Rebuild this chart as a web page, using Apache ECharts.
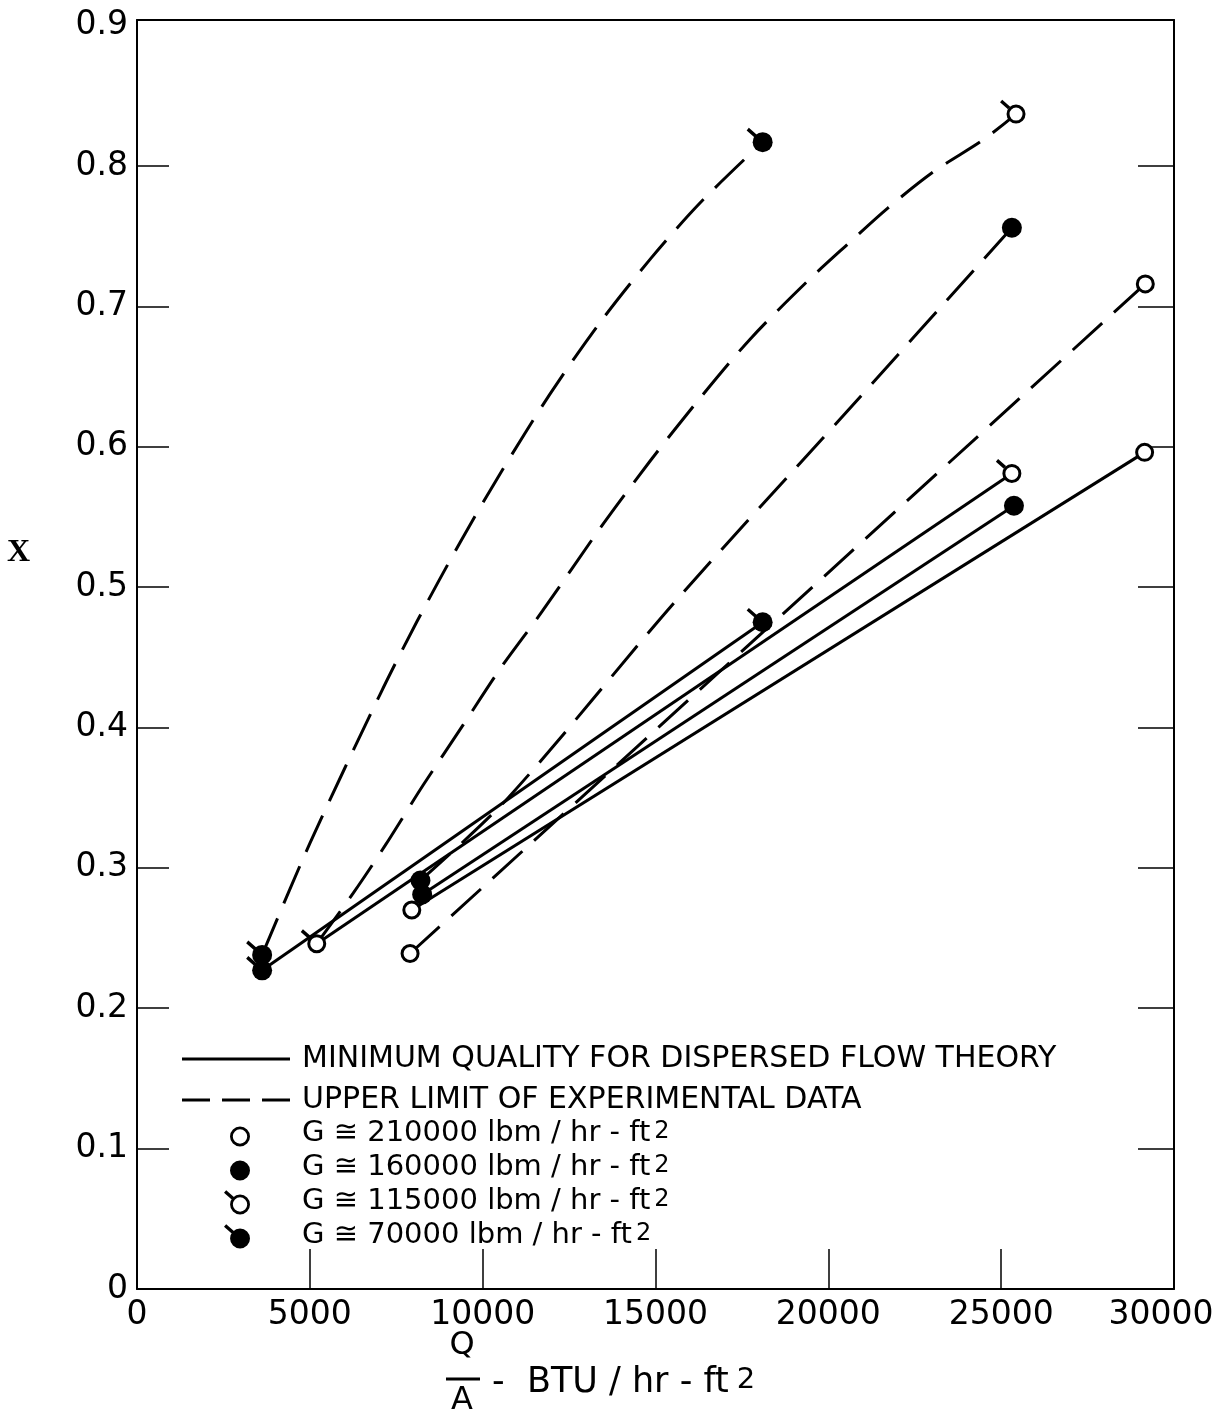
<!DOCTYPE html>
<html><head><meta charset="utf-8">
<script src="https://cdn.jsdelivr.net/npm/echarts@6/dist/echarts.min.js"></script>
<style>html,body{margin:0;padding:0;background:#fff;overflow:hidden}#c{width:1219px;height:1414px}</style>
</head><body><div id="c"></div>
<script>
// ---- tick labels ----
const xTickValues = [0, 5000, 10000, 15000, 20000, 25000, 30000];
const yTickLabels = ['0', '0.1', '0.2', '0.3', '0.4', '0.5', '0.6', '0.7', '0.8', '0.9'];
const yInnerTicks = [0.1, 0.2, 0.3, 0.4, 0.5, 0.6, 0.7, 0.8];

// ---- legend / series names ----
const nameMin = 'MINIMUM QUALITY FOR DISPERSED FLOW THEORY';
const nameUpper = 'UPPER LIMIT OF EXPERIMENTAL DATA';
const G210 = 'G ≅ 210000 lbm / hr - ft2';
const G160 = 'G ≅ 160000 lbm / hr - ft2';
const G115 = 'G ≅ 115000 lbm / hr - ft2';
const G70  = 'G ≅ 70000 lbm / hr - ft2';

// ---- data points [Q/A (BTU/hr-ft2), X] ----
const pts210 = [[7950, 0.270], [7900, 0.239], [29170, 0.716], [29150, 0.596]];
const pts160 = [[8200, 0.291], [8250, 0.281], [25310, 0.756], [25370, 0.558]];
const pts115 = [[5200, 0.246], [25430, 0.837], [25310, 0.581]];
const pts70  = [[3620, 0.238], [3620, 0.227], [18100, 0.817], [18100, 0.475]];

// ---- minimum quality (solid) lines ----
const min210 = [[7950, 0.270], [29150, 0.596]];
const min160 = [[8250, 0.281], [25370, 0.558]];
const min115 = [[5200, 0.246], [25310, 0.581]];
const min70  = [[3620, 0.227], [18100, 0.475]];

// ---- upper limit (dashed) curves ----
const up210 = [[7900, 0.239], [29170, 0.716]];
const up160 = [[8200, 0.291], [10740, 0.350], [15580, 0.490], [20500, 0.624], [25310, 0.756]];
const up115 = [[5200, 0.246], [6255, 0.282], [7180, 0.316], [8280, 0.359], [9440, 0.402],
               [10510, 0.442], [11730, 0.483], [13400, 0.542], [14850, 0.590], [16300, 0.635],
               [17750, 0.677], [19400, 0.718], [20590, 0.745], [21720, 0.770], [23050, 0.796],
               [24500, 0.819], [25430, 0.837]];
const up70  = [[3620, 0.238], [5010, 0.318], [7040, 0.424], [8110, 0.476], [9350, 0.532],
               [10510, 0.581], [11960, 0.638], [13410, 0.689], [14860, 0.734], [16300, 0.774],
               [18100, 0.817]];

const FONT = 'DejaVu Sans';
const anchors = 'M0,0 L0.04,0 L0,0.04 Z M26,26 L25.96,26 L26,25.96 Z ';
const flagP = 'M2.1,1.7 L10.1,8.7 L7.9,11.3 L-0.1,4.3 Z ';
const discP = 'M6,16 A10,10 0 1 1 26,16 A10,10 0 1 1 6,16 Z ';
const ringP = discP + 'M8.8,16 A7.2,7.2 0 1 0 23.2,16 A7.2,7.2 0 1 0 8.8,16 Z ';
const flagSymbol = 'path://' + anchors + flagP;

function lineSeries(name, data, dashed) {
  return {
    type: 'line', name: name, data: data, showSymbol: false, silent: true,
    smooth: dashed ? 0.3 : false, z: 2,
    itemStyle: { color: '#000' },
    lineStyle: { color: '#000', width: 3, type: dashed ? [40, 16] : 'solid', cap: 'butt' }
  };
}
function markerSeries(name, data, open) {
  return {
    type: 'scatter', name: name, data: data, symbol: 'circle',
    symbolSize: open ? 16 : 20, z: 5,
    itemStyle: open ? { color: '#fff', borderColor: '#000', borderWidth: 3, opacity: 1 }
                    : { color: '#000', borderColor: '#000', borderWidth: 0, opacity: 1 }
  };
}
function flagSeries(name, data) {
  return {
    type: 'scatter', name: name, data: data, symbol: flagSymbol, symbolSize: 26,
    symbolOffset: [-3, -3], z: 4, silent: true, itemStyle: { color: '#000', opacity: 1 }
  };
}
function legendFmt(n) {
  return '{t|' + n.slice(0, -1) + '}{s|2}';
}

const chart = echarts.init(document.getElementById('c'), null, { renderer: 'canvas' });
chart.setOption({
  animation: false,
  backgroundColor: '#fff',
  grid: { left: 137, right: 45, top: 20, bottom: 125, show: false, containLabel: false, outerBoundsMode: 'none' },
  xAxis: [{
    type: 'value', min: 0, max: 30000, interval: 5000, position: 'bottom',
    axisLine: { show: true, onZero: false, lineStyle: { color: '#000', width: 2 } },
    axisTick: { show: true, inside: true, length: 40, lineStyle: { color: '#000', width: 1.5 } },
    axisLabel: { color: '#000', fontFamily: FONT, fontSize: 33, margin: 10,
      formatter: v => v === 30000 ? '{r|30000}' : (xTickValues.indexOf(v) >= 0 ? String(v) : ''),
      rich: { r: { fontFamily: FONT, fontSize: 33, color: '#000', padding: [0, 26, 0, 0] } } },
    splitLine: { show: false }
  }, {
    type: 'value', min: 0, max: 30000, interval: 5000, position: 'top',
    axisLine: { show: true, onZero: false, lineStyle: { color: '#000', width: 2 } },
    axisTick: { show: false }, axisLabel: { show: false }, splitLine: { show: false }
  }],
  yAxis: [{
    type: 'value', min: 0, max: 0.904, interval: 0.1, position: 'left',
    axisLine: { show: true, onZero: false, lineStyle: { color: '#000', width: 2 } },
    axisTick: { show: true, inside: true, length: 32, customValues: yInnerTicks, lineStyle: { color: '#000', width: 1.5 } },
    axisLabel: { color: '#000', fontFamily: FONT, fontSize: 33, margin: 9,
      formatter: v => { const i = Math.round(v * 10); return Math.abs(v * 10 - i) < 1e-6 ? yTickLabels[i] : ''; } },
    splitLine: { show: false }
  }, {
    type: 'value', min: 0, max: 0.904, interval: 0.1, position: 'right',
    axisLine: { show: true, onZero: false, lineStyle: { color: '#000', width: 2 } },
    axisTick: { show: true, inside: true, length: 36, customValues: yInnerTicks, lineStyle: { color: '#000', width: 1.5 } },
    axisLabel: { show: false }, splitLine: { show: false }
  }],
  legend: [{
    orient: 'vertical', left: 182, top: 1042, padding: 0, itemWidth: 108, itemHeight: 3, itemGap: 7,
    textStyle: { color: '#000', fontFamily: FONT, fontSize: 30, lineHeight: 34, padding: [0, 0, 0, 7] },
    data: [
      { name: nameMin, icon: 'path://M0,0 H108 V3 H0 Z' },
      { name: nameUpper, icon: 'path://M0,0 H28 V3 H0 Z M40,0 H68 V3 H40 Z M80,0 H108 V3 H80 Z' }
    ],
    selectedMode: false
  }, {
    orient: 'vertical', left: 224, top: 1119, padding: 0, itemWidth: 26, itemHeight: 26, itemGap: 5,
    selectedMode: false,
    formatter: legendFmt,
    textStyle: { color: '#000', fontFamily: FONT, fontSize: 29, padding: [0, 0, 0, 47],
      rich: {
        t: { fontFamily: FONT, fontSize: 29, lineHeight: 28, color: '#000' },
        s: { fontFamily: FONT, fontSize: 24, lineHeight: 10, verticalAlign: 'top', color: '#000', padding: [0, 0, 0, 4] }
      } },
    data: [
      { name: G210, icon: 'path://' + anchors + ringP, itemStyle: { color: '#000', borderWidth: 0, opacity: 1 } },
      { name: G160, icon: 'path://' + anchors + discP, itemStyle: { color: '#000', borderWidth: 0, opacity: 1 } },
      { name: G115, icon: 'path://' + anchors + flagP + ringP, itemStyle: { color: '#000', borderWidth: 0, opacity: 1 } },
      { name: G70,  icon: 'path://' + anchors + flagP + discP, itemStyle: { color: '#000', borderWidth: 0, opacity: 1 } }
    ]
  }],
  graphic: [
    { type: 'text', left: 7, top: 537, style: { text: 'X', font: 'bold 32px "Liberation Serif"', fill: '#000' } },
    { type: 'text', x: 462, y: 1346, style: { text: 'Q', font: '32px "DejaVu Sans"', fill: '#000', align: 'center', verticalAlign: 'middle' } },
    { type: 'line', shape: { x1: 446, y1: 1379, x2: 480, y2: 1379 }, style: { stroke: '#000', lineWidth: 3 } },
    { type: 'text', x: 462, y: 1401, style: { text: 'A', font: '32px "DejaVu Sans"', fill: '#000', align: 'center', verticalAlign: 'middle' } },
    { type: 'text', x: 492, y: 1383, style: {
        text: '{m|-  BTU / hr - ft}{s|2}', fill: '#000', align: 'left', verticalAlign: 'middle',
        rich: {
          m: { fontFamily: FONT, fontSize: 35, lineHeight: 34, fill: '#000' },
          s: { fontFamily: FONT, fontSize: 29, lineHeight: 12, verticalAlign: 'top', fill: '#000', padding: [0, 0, 0, 8] }
        } } }
  ],
  series: [
    lineSeries(nameMin, min70, false),
    lineSeries(nameMin, min115, false),
    lineSeries(nameMin, min160, false),
    lineSeries(nameMin, min210, false),
    lineSeries(nameUpper, up70, true),
    lineSeries(nameUpper, up115, true),
    lineSeries(nameUpper, up160, true),
    lineSeries(nameUpper, up210, true),
    flagSeries('flags70', pts70),
    flagSeries('flags115', pts115),
    markerSeries(G210, pts210, true),
    markerSeries(G160, pts160, false),
    markerSeries(G115, pts115, true),
    markerSeries(G70, pts70, false)
  ]
});
</script>
</body></html>
